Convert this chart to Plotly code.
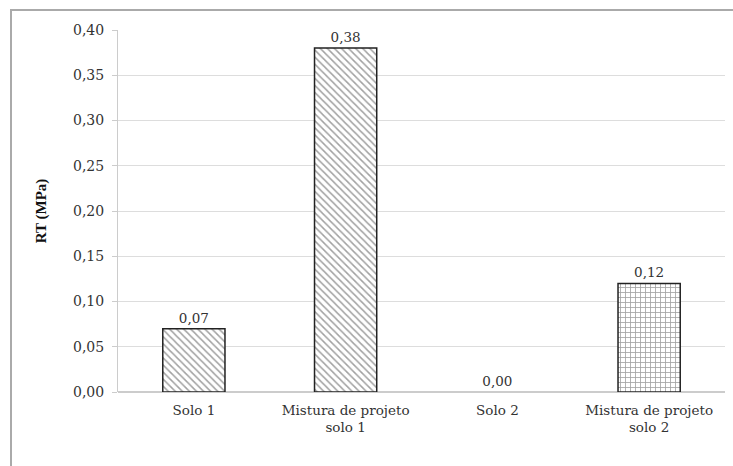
import plotly.graph_objects as go

categories = ["Solo 1", "Mistura de projeto<br>solo 1", "Solo 2", "Mistura de projeto<br>solo 2"]
values = [0.07, 0.38, 0.00, 0.12]
labels = ["0.07", "0.38", "0.00", "0.12"]
tick_vals = [0, 0.05, 0.10, 0.15, 0.20, 0.25, 0.30, 0.35, 0.40]
tick_text = ["0,00", "0,05", "0,10", "0,15", "0,20", "0,25", "0,30", "0,35", "0,40"]
shapes_pat = ["\\", "\\", "", "+"]
text_labels = [l.replace(".", ",") for l in labels]
outline_w = [0 if v == 0 else 1.5 for v in values]

SERIF = "DejaVu Serif, Liberation Serif, serif"
TSERIF = "Liberation Serif, Times New Roman, serif"
W, H = 733, 466
ml, mr, mt, mb = 118, 8, 30, 74
pw, ph = W - ml - mr, H - mt - mb

fig = go.Figure()
fig.add_trace(go.Bar(
    x=categories, y=values, width=0.41,
    text=text_labels, textposition="outside", cliponaxis=False,
    textfont=dict(family=SERIF, size=13.5, color="#333"),
    marker=dict(
        color="white",
        line=dict(color="#222", width=outline_w),
        pattern=dict(shape=shapes_pat, fgcolor="#444", bgcolor="white", size=5, solidity=0.3),
    ),
))

fig.update_layout(
    width=W, height=H,
    margin=dict(l=ml, r=mr, t=mt, b=mb),
    paper_bgcolor="white", plot_bgcolor="white",
    showlegend=False,
    font=dict(family=SERIF, size=13, color="#333"),
    xaxis=dict(showgrid=False, showline=False, ticks="", ticklabelstandoff=8,
               tickfont=dict(family=SERIF, size=13.5)),
    yaxis=dict(
        range=[0, 0.40], tickvals=tick_vals, ticktext=tick_text,
        showgrid=True, gridcolor="#dddddd", gridwidth=1,
        showline=True, linecolor="#cccccc", ticks="outside", ticklen=5, tickcolor="#cccccc",
        zeroline=True, zerolinecolor="#cccccc",
        ticklabelstandoff=5,
        tickfont=dict(family=SERIF, size=14),
        title=dict(text="<b>RT (MPa)</b>", font=dict(family=TSERIF, size=15, color="#111"), standoff=22),
    ),
    shapes=[dict(
        type="rect", xref="paper", yref="paper",
        x0=(11 - ml) / pw, x1=(W + 5 - ml) / pw,
        y0=-(H + 5 - mt - ph) / ph, y1=1 + (mt - 10) / ph,
        line=dict(color="#aaaaaa", width=2), fillcolor="rgba(0,0,0,0)", layer="below",
    )],
)

fig.write_html("out.html", config={"displayModeBar": False},
               post_script="document.body.style.margin='0';document.body.style.overflow='hidden';")
